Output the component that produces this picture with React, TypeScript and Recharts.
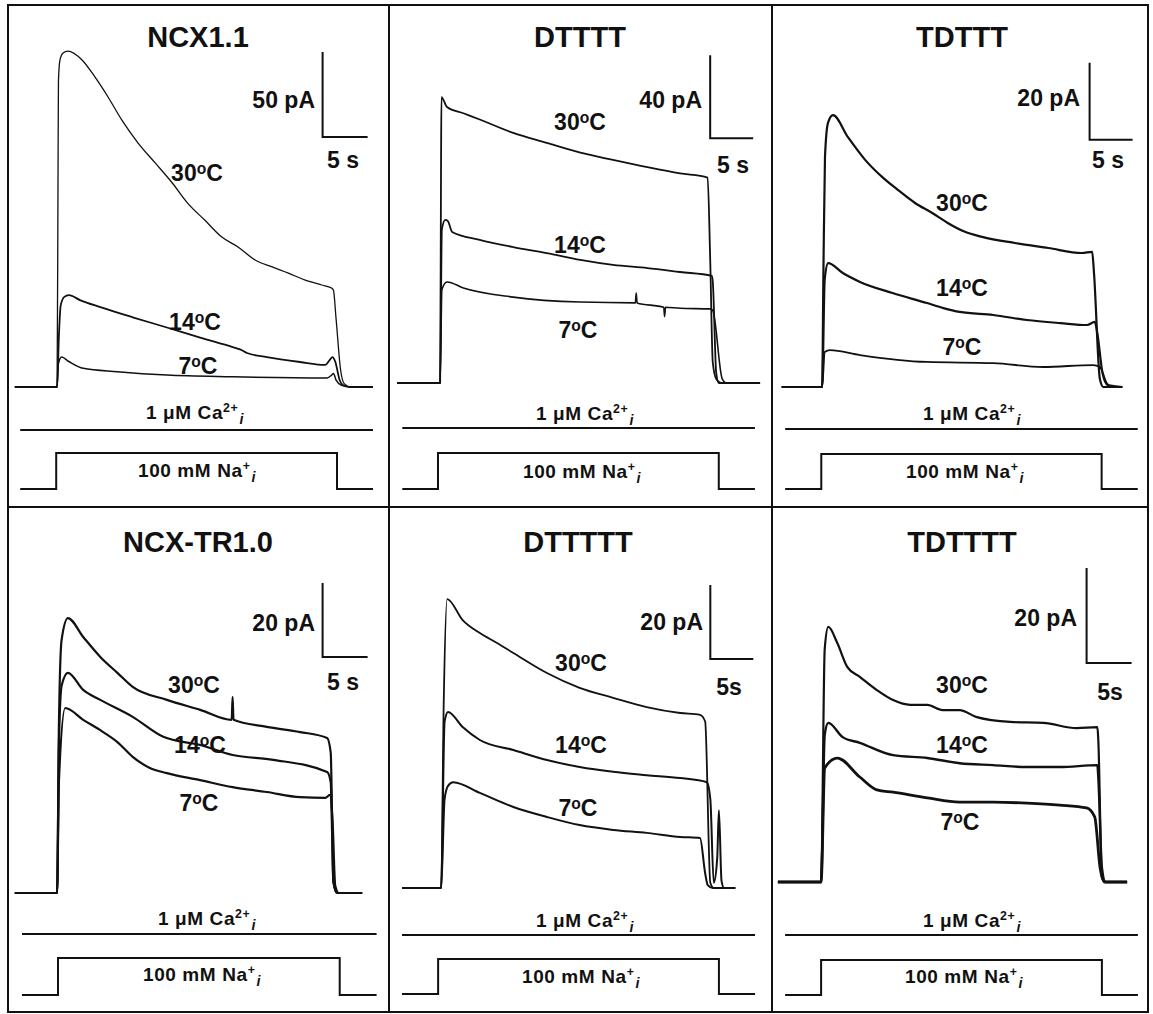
import { Line, LineChart, XAxis, YAxis } from "recharts";

// ---- data (time in s from Na+ onset, current in pA) ----
const titles = ["NCX1.1", "DTTTT", "TDTTT", "NCX-TR1.0", "DTTTTT", "TDTTTT"];
const temps = ["30", "14", "7"];
const scaleSec = [5, 5, 5, 5, 5, 5];
const scalePA = [50, 40, 20, 20, 20, 20];
const secLabels = ["5 s", "5 s", "5 s", "5 s", "5s", "5s"];

type P = [number, number][];

const ncx11_30: P = [[-4.8,0],[-0.1,0],[0,120],[0.05,180],[0.22,192.4],[0.56,196.5],[1.1,197.6],[2.67,192.4],[4.1,182.4],[5.56,170.6],[7.1,157],[8.9,143.5],[10.8,131.8],[12.7,120],[14.4,108.2],[16.3,98.2],[18.2,88.2],[20,82.4],[21.9,74.7],[23.8,70.6],[25.6,67],[27.4,63],[29.3,60],[30.4,58.2],[30.6,57],[30.9,40],[31.4,10],[31.8,2],[32.5,0],[35,0]];
const ncx11_14: P = [[-4.8,0],[-0.1,0],[0.1,30],[0.3,48],[0.7,53],[1.2,54],[2.5,51],[4.7,47],[8.3,41],[12.1,35],[15.8,29],[19.4,23.5],[20.3,22],[21,20],[23.2,17.6],[26.9,14.7],[29.7,13],[30.2,16],[30.5,17.6],[30.8,15],[31.3,4],[31.7,1],[32.5,0],[35,0]];
const ncx11_7: P = [[-4.8,0],[-0.1,0],[0.05,14],[0.4,17.6],[1.2,15],[2.8,11],[6.6,9],[12.1,7],[19.4,6],[29.9,5.3],[30.4,7],[30.6,8],[30.9,4],[31.5,1],[32.5,0],[35,0]];

const dt4_30: P = [[-5.1,0],[-0.1,0],[0,100],[0.05,137.8],[0.7,133],[2.6,130],[4.5,127],[8.4,120.5],[12.3,115.7],[16.2,111],[20,107.5],[24,104],[27.8,101],[31,99],[31.3,60],[31.6,10],[32,2],[32.6,0],[37.1,0]];
const dt4_14: P = [[-5.1,0],[-0.1,0],[0.1,74],[0.5,78.6],[0.8,78],[1.3,72.8],[4.5,69],[8.4,65.5],[12.3,62.6],[16.2,59.3],[20,56.9],[24,55.4],[27.8,53.5],[31.5,51.6],[31.6,49],[32,5],[32.3,0],[37.1,0]];
const dt4_7: P = [[-5.1,0],[-0.1,0],[0.1,45],[0.7,48.7],[2.6,45.8],[8.4,41.4],[16.2,39],[22.6,38.6],[22.7,43.4],[22.8,38.6],[25.9,36.5],[26,32],[26.1,36.5],[27.8,36],[31.3,35.7],[31.6,35],[32.7,2],[33.2,0],[37.1,0]];

const td3_30: P = [[-4.8,0],[-0.1,0],[0.05,30],[0.23,59.7],[0.58,68.6],[1.16,70.6],[2.9,64.9],[4.9,59],[6.9,54.5],[8.7,51.2],[10.7,47.8],[12.7,45.2],[14.5,42.6],[16.5,40.3],[18.5,39],[22.3,37.4],[26.2,36.1],[30.1,34.8],[31.3,35.1],[31.5,30],[32.2,2],[32.6,0],[34.8,0]];
const td3_14: P = [[-4.8,0],[-0.1,0],[0.2,28],[0.6,32.2],[2.3,29.6],[4.3,27.3],[8.1,24.4],[12.1,21.8],[14,20.5],[15.9,19.5],[19.8,18.7],[23.7,17.4],[27.6,16.6],[30.7,16.1],[31.6,16.9],[31.9,14],[32.5,3.6],[33.1,0.5],[34.8,0]];
const td3_7: P = [[-4.8,0],[-0.1,0],[0.2,9.1],[0.8,9.6],[4.3,8.3],[12.1,6.5],[19.8,6.2],[25.6,5.2],[31.4,5.7],[32.2,5.2],[33,1],[33.6,0],[34.8,0]];

const tr10_30: P = [[-4.8,0],[-0.1,0],[0.1,45],[0.4,68.4],[1.1,74.3],[2.8,69.2],[4.7,63.8],[6.6,59.5],[8.3,55.7],[12.1,52.2],[15.8,49.5],[19.3,46.8],[19.4,53],[19.5,46.8],[23.2,44.9],[26.9,43.5],[29.9,41.9],[30.3,38],[30.6,3],[31,0],[33.8,0]];
const tr10_14: P = [[-4.8,0],[-0.1,0],[0.1,40],[0.4,56],[1.1,59.5],[2.8,54.9],[4.7,52.2],[8.3,47.6],[11.7,42.2],[15.8,40],[19.4,37.3],[23.9,36],[29.9,32.7],[30.3,30],[30.6,3],[31,0],[33.8,0]];
const tr10_7: P = [[-4.8,0],[-0.1,0],[0.1,30],[0.8,50],[2.8,46.8],[4.7,44],[6.6,40.8],[8.3,36.8],[10.2,33.8],[12.1,32.4],[15.8,30.5],[19.4,28.6],[23.2,27.3],[26.9,25.9],[29.7,25.7],[30.2,26.5],[30.5,20],[30.8,2],[31.2,0],[33.8,0]];

const dt5_30: P = [[-4.65,0],[-0.1,0],[0.2,50],[0.6,78.1],[2.4,72.4],[4.4,68.9],[6.4,66.2],[8.3,63.5],[12.2,58.1],[16,54.1],[19.9,51.4],[23.8,48.9],[27.7,47.3],[30,46.8],[30.6,45],[31.2,1.4],[31.6,0],[34.1,0]];
const dt5_14: P = [[-4.65,0],[-0.1,0],[0.3,45],[0.7,47.6],[2.4,43.5],[4.4,40],[8.3,37.3],[12.2,34.6],[16,32.7],[19.9,31.4],[23.8,30.5],[27.7,29.7],[30.8,28.6],[31.2,24],[31.6,1.4],[32,8],[32.2,21],[32.5,2],[32.8,0],[34.1,0]];
const dt5_7: P = [[-4.65,0],[-0.1,0],[0.3,24],[0.7,27.6],[1.3,28.6],[4.4,25.7],[8.3,21.9],[12.2,19.2],[16,17],[19.9,15.7],[23.8,14.9],[27.7,13.8],[30,13.5],[30.6,4],[30.9,0.8],[31.5,0],[34.1,0]];

const td4_30: P = [[-4.9,0],[-0.1,0],[0.3,49],[0.7,53.7],[1.7,50.3],[2.8,45.3],[4.2,43.2],[6.1,40.4],[7.9,38.3],[9.8,37.3],[11.7,37.3],[13.4,36.2],[15.3,36.2],[17.2,34.7],[20.9,33.7],[24.6,33.5],[28.3,32.4],[30.6,32.6],[30.7,29.9],[31.1,1],[31.5,0],[33.9,0]];
const td4_14: P = [[-4.9,0],[-0.1,0],[0.3,31],[0.7,33.5],[2.3,30.5],[4.2,29.3],[7.9,26.7],[11.7,26.1],[15.3,25],[19,24.6],[22.8,24.2],[26.4,24.2],[30.6,24.6],[30.7,22],[31.1,3],[31.5,0],[33.9,0]];
const td4_7: P = [[-4.9,0],[-0.1,0],[0.3,24],[1.7,26.1],[4.2,22.1],[6.1,19.4],[7.9,18.9],[11.7,17.7],[15.3,16.8],[19,16.8],[22.8,16.6],[26.4,16.2],[29.4,15.6],[30.3,13.7],[30.9,3],[31.4,0],[33.9,0]];

// solution protocol: [start, end] of the 1 uM Ca line, and Na step times [start, up, down, end]
const caSpan: P = [[-4.2, 35], [-4.5, 36.5], [-4.4, 36.6], [-4, 35.4], [-4.65, 36.4], [-4.1, 35.1]];
const naTimes = [
  [-4.2, -0.2, 31.0, 35],
  [-4.5, -0.35, 32.3, 36.5],
  [-4.4, -0.2, 32.4, 36.6],
  [-4, 0, 31.3, 35.4],
  [-4.65, -0.45, 32.2, 36.4],
  [-4.1, -0.1, 31.1, 35.1],
];
const caConc = 1;
const naConc = 100;

const traces: P[][] = [
  [ncx11_30, ncx11_14, ncx11_7],
  [dt4_30, dt4_14, dt4_7],
  [td3_30, td3_14, td3_7],
  [tr10_30, tr10_14, tr10_7],
  [dt5_30, dt5_14, dt5_7],
  [td4_30, td4_14, td4_7],
];

// ---- layout (page pixels) ----
type Lay = {
  left: number; top: number; w: number; h: number;
  onsetX: number; pxs: number; baseY: number; pxa: number;
  caY: number; naLow: number; naHigh: number;
  bar: [number, number]; // scale bar corner, in data units
  widths: number[];
  title: [number, number];
  tl: [number, number][];
  pa: [number, number];
  sec: [number, number];
  ca: [number, number];
  na: [number, number];
};

const layouts: Lay[] = [
  { left: 8, top: 5, w: 381, h: 502, onsetX: 58, pxs: 9, baseY: 387, pxa: 1.7, caY: 430, naLow: 489, naHigh: 453, bar: [29.4, 147], widths: [1.3, 1.8, 1.5],
    title: [198, 37], tl: [[197, 173], [195, 322], [198, 366]], pa: [315, 100], sec: [343, 160], ca: [195, 414], na: [197, 472] },
  { left: 389, top: 5, w: 383, h: 502, onsetX: 441, pxs: 8.6, baseY: 383, pxa: 2.075, caY: 428, naLow: 489, naHigh: 453, bar: [31.3, 118], widths: [1.8, 1.8, 1.6],
    title: [580, 37], tl: [[580, 122], [580, 245], [578, 330]], pa: [702, 100], sec: [733, 165], ca: [585, 415], na: [582, 473] },
  { left: 772, top: 5, w: 376, h: 502, onsetX: 823, pxs: 8.6, baseY: 387, pxa: 3.85, caY: 429, naLow: 489, naHigh: 454, bar: [31, 64.2], widths: [2.2, 2.2, 1.8],
    title: [962, 37], tl: [[962, 203], [962, 288], [962, 347]], pa: [1080, 98], sec: [1108, 160], ca: [972, 415], na: [965, 473] },
  { left: 8, top: 507, w: 381, h: 505, onsetX: 58, pxs: 9, baseY: 893, pxa: 3.7, caY: 934, naLow: 995, naHigh: 958, bar: [29.4, 63.8], widths: [2.2, 2.2, 2.2],
    title: [198, 542], tl: [[194, 685], [200, 745], [199, 803]], pa: [315, 623], sec: [343, 682], ca: [207, 920], na: [202, 976] },
  { left: 389, top: 507, w: 383, h: 505, onsetX: 442, pxs: 8.6, baseY: 888, pxa: 3.7, caY: 935, naLow: 994, naHigh: 959, bar: [31.2, 61.9], widths: [1.8, 2, 2],
    title: [578, 542], tl: [[581, 663], [581, 745], [578, 808]], pa: [703, 622], sec: [729, 687], ca: [585, 922], na: [581, 978] },
  { left: 772, top: 507, w: 376, h: 505, onsetX: 822, pxs: 9, baseY: 882, pxa: 4.75, caY: 935, naLow: 995, naHigh: 960, bar: [29.4, 46.1], widths: [2.2, 2.4, 2.8],
    title: [962, 542], tl: [[962, 685], [962, 745], [960, 822]], pa: [1077, 618], sec: [1110, 692], ca: [972, 922], na: [964, 978] },
];

const FONT = '"Liberation Sans", Arial, Helvetica, sans-serif';
const INK = "#111";

const toPts = (a: P) => a.map(([t, i]) => ({ t, i }));

function Txt({ x, y, size, anchor = "c", spacing = 0, children }: { x: number; y: number; size: number; anchor?: "c" | "r"; spacing?: number; children: React.ReactNode }) {
  return (
    <div
      style={{
        position: "absolute",
        left: x,
        top: y,
        transform: anchor === "c" ? "translate(-50%, -50%)" : "translate(-100%, -50%)",
        fontFamily: FONT,
        fontWeight: 700,
        fontSize: size,
        letterSpacing: spacing,
        lineHeight: 1,
        whiteSpace: "nowrap",
        color: INK,
      }}
    >
      {children}
    </div>
  );
}

function Panel({ idx }: { idx: number }) {
  const L = layouts[idx];
  const bottom = L.top + L.h;
  const xDomain = [(L.left - L.onsetX) / L.pxs, (L.left + L.w - L.onsetX) / L.pxs];
  const yDomain = [(L.baseY - bottom) / L.pxa, (L.baseY - L.top) / L.pxa];
  const caK = 100;
  const caDomain = [caConc - (bottom - L.caY) / caK, caConc + (L.caY - L.top) / caK];
  const naK = (L.naLow - L.naHigh) / naConc;
  const naDomain = [-(bottom - L.naLow) / naK, (L.naLow - L.top) / naK];

  const [bx, by] = L.bar;
  const bar = [
    { t: bx, i: by + scalePA[idx] },
    { t: bx, i: by },
    { t: bx + scaleSec[idx], i: by },
  ];
  const ca = caSpan[idx].map((t) => ({ t, v: caConc }));
  const nt = naTimes[idx];
  const na = [
    { t: nt[0], v: 0 }, { t: nt[1], v: 0 }, { t: nt[1], v: naConc },
    { t: nt[2], v: naConc }, { t: nt[2], v: 0 }, { t: nt[3], v: 0 },
  ];

  return (
    <>
      <div style={{ position: "absolute", left: L.left, top: L.top }}>
        <LineChart width={L.w} height={L.h} margin={{ top: 0, right: 0, bottom: 0, left: 0 }}>
          <XAxis type="number" dataKey="t" domain={xDomain} hide allowDataOverflow />
          <YAxis yAxisId="cur" type="number" domain={yDomain} hide allowDataOverflow />
          <YAxis yAxisId="ca" type="number" domain={caDomain} hide allowDataOverflow />
          <YAxis yAxisId="na" type="number" domain={naDomain} hide allowDataOverflow />
          {traces[idx].map((tr, k) => (
            <Line
              key={k}
              yAxisId="cur"
              data={toPts(tr)}
              dataKey="i"
              type="monotone"
              stroke={INK}
              strokeWidth={L.widths[k]}
              strokeLinejoin="round"
              dot={false}
              activeDot={false}
              isAnimationActive={false}
            />
          ))}
          <Line yAxisId="cur" data={bar} dataKey="i" type="linear" stroke={INK} strokeWidth={2} dot={false} activeDot={false} isAnimationActive={false} />
          <Line yAxisId="ca" data={ca} dataKey="v" type="linear" stroke={INK} strokeWidth={2} dot={false} activeDot={false} isAnimationActive={false} />
          <Line yAxisId="na" data={na} dataKey="v" type="linear" stroke={INK} strokeWidth={2} dot={false} activeDot={false} isAnimationActive={false} />
        </LineChart>
      </div>
      <Txt x={L.title[0]} y={L.title[1]} size={29}>{titles[idx]}</Txt>
      {temps.map((tp, k) => (
        <Txt key={tp} x={L.tl[k][0]} y={L.tl[k][1]} size={23}>
          {tp}
          <span style={{ fontSize: "0.68em", verticalAlign: "0.45em" }}>o</span>C
        </Txt>
      ))}
      <Txt x={L.pa[0]} y={L.pa[1]} size={23} anchor="r">{scalePA[idx]} pA</Txt>
      <Txt x={L.sec[0]} y={L.sec[1]} size={23}>{secLabels[idx]}</Txt>
      <Txt x={L.ca[0]} y={L.ca[1]} size={19} spacing={0.6}>
        {caConc} μM Ca
        <span style={{ fontSize: "0.65em", verticalAlign: "0.55em" }}>2+</span>
        <span style={{ fontSize: "0.75em", fontStyle: "italic", verticalAlign: "-0.35em", marginLeft: 1 }}>i</span>
      </Txt>
      <Txt x={L.na[0]} y={L.na[1]} size={19} spacing={0.6}>
        {naConc} mM Na
        <span style={{ fontSize: "0.65em", verticalAlign: "0.55em" }}>+</span>
        <span style={{ fontSize: "0.75em", fontStyle: "italic", verticalAlign: "-0.35em", marginLeft: 1 }}>i</span>
      </Txt>
    </>
  );
}

export default function App() {
  const rule = (s: React.CSSProperties) => <div style={{ position: "absolute", background: INK, ...s }} />;
  return (
    <div style={{ position: "absolute", left: 0, top: 0, width: 1153, height: 1014, background: "#fff" }}>
      <div style={{ position: "absolute", left: 7, top: 4, width: 1142, height: 1009, border: `2px solid ${INK}`, boxSizing: "border-box" }} />
      {rule({ left: 388, top: 4, width: 2, height: 1009 })}
      {rule({ left: 771, top: 4, width: 2, height: 1009 })}
      {rule({ left: 7, top: 506, width: 1142, height: 2 })}
      {layouts.map((_, i) => (
        <Panel key={i} idx={i} />
      ))}
    </div>
  );
}
